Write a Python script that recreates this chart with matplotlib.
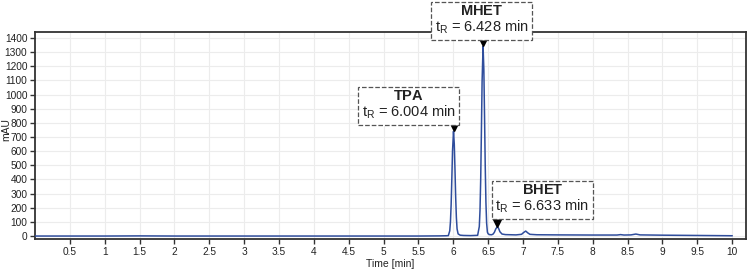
import matplotlib
matplotlib.use("Agg")
import matplotlib.pyplot as plt

plt.rcParams['font.family'] = ['Liberation Sans', 'DejaVu Sans']
plt.rcParams['mathtext.fontset'] = 'custom'
plt.rcParams['mathtext.rm'] = 'Liberation Sans'
plt.rcParams['mathtext.it'] = 'Liberation Sans:italic'
plt.rcParams['mathtext.bf'] = 'Liberation Sans:bold'

# Chromatogram trace (time in min, signal in mAU)
time = [0.0, 0.5, 1.0, 1.5, 2.0, 2.5, 3.0, 3.5, 4.0, 4.5, 5.0, 5.5, 5.8, 5.9,
        5.93, 5.95, 5.96, 5.97, 5.98, 5.99, 6.004, 6.015, 6.025, 6.035, 6.045,
        6.055, 6.07, 6.10, 6.15, 6.25, 6.35, 6.374, 6.384, 6.394, 6.404,
        6.414, 6.428, 6.439, 6.449, 6.459, 6.469, 6.479, 6.49, 6.50, 6.52,
        6.55, 6.57, 6.59, 6.61, 6.633, 6.65, 6.67, 6.70, 6.75, 6.90, 6.98,
        7.01, 7.04, 7.07, 7.10, 7.20, 7.50, 8.00, 8.35, 8.40, 8.45, 8.55,
        8.62, 8.68, 9.00, 9.50, 10.0]
signal = [0, 0, 0, 1, 0, 0, 0, 0, 0, 0, 0, 0, 1, 2,
          3, 37, 100, 222, 407, 603, 740, 650, 470, 274, 131,
          50, 15, 6, 4, 3, 5, 67, 181, 402, 737,
          1092, 1340, 1180, 851, 496, 237, 91, 28, 16, 10,
          9, 13, 26, 50, 66, 55, 30, 14, 10, 8, 12,
          25, 35, 22, 12, 9, 8, 7, 7, 10, 7, 8,
          14, 8, 6, 4, 2]

peak_names = ['TPA', 'MHET', 'BHET']
peak_times = [6.004, 6.428, 6.633]
peak_heights = [740, 1340, 66]
label_x = [5.36, 6.41, 7.28]
label_y = [923, 1527, 262]

fig = plt.figure(figsize=(7.48, 2.70), dpi=100)
ax = fig.add_axes([35/748, 31/270, 711/748, 207/270])

ax.plot(time, signal, color='#2f4d9c', lw=1.1, zorder=3)
ax.plot(peak_times, [h + 28 for h in peak_heights], linestyle='none',
        marker='v', color='black', markersize=6, zorder=4)

for name, t, lx, ly in zip(peak_names, peak_times, label_x, label_y):
    ax.text(lx, ly, r'$\mathbf{' + name + r'}$' + '\n' + r't$_\mathrm{R}$' + f' = {t:.3f} min',
            ha='center', va='center', multialignment='center', fontsize=10.5,
            color='#222222', linespacing=1.05, clip_on=False, zorder=5,
            bbox=dict(boxstyle='square,pad=0.25', fc='white', ec='#555555',
                      lw=0.9, ls='--'))

ax.set_xlim(0, 10.2)
ax.set_ylim(-21, 1442)
ax.set_xticks([0.5 * i for i in range(1, 21)])
ax.set_xticklabels([f'{0.5*i:g}' for i in range(1, 21)])
ax.set_yticks(range(0, 1401, 100))
ax.tick_params(labelsize=7.3, length=3.5, width=1, color='#333333', labelcolor='#222222', pad=2)
ax.grid(True, color='#ececec', lw=0.8)
ax.set_axisbelow(True)
for s in ax.spines.values():
    s.set_color('#333333')
    s.set_linewidth(1.3)
ax.set_xlabel('Time [min]', fontsize=7.5, labelpad=2, color='#222222')
ax.set_ylabel('mAU', fontsize=7.5, color='#222222', va='center')
ax.yaxis.set_label_coords(-0.0405, 0.53)

fig.savefig('out.png', dpi=100)
